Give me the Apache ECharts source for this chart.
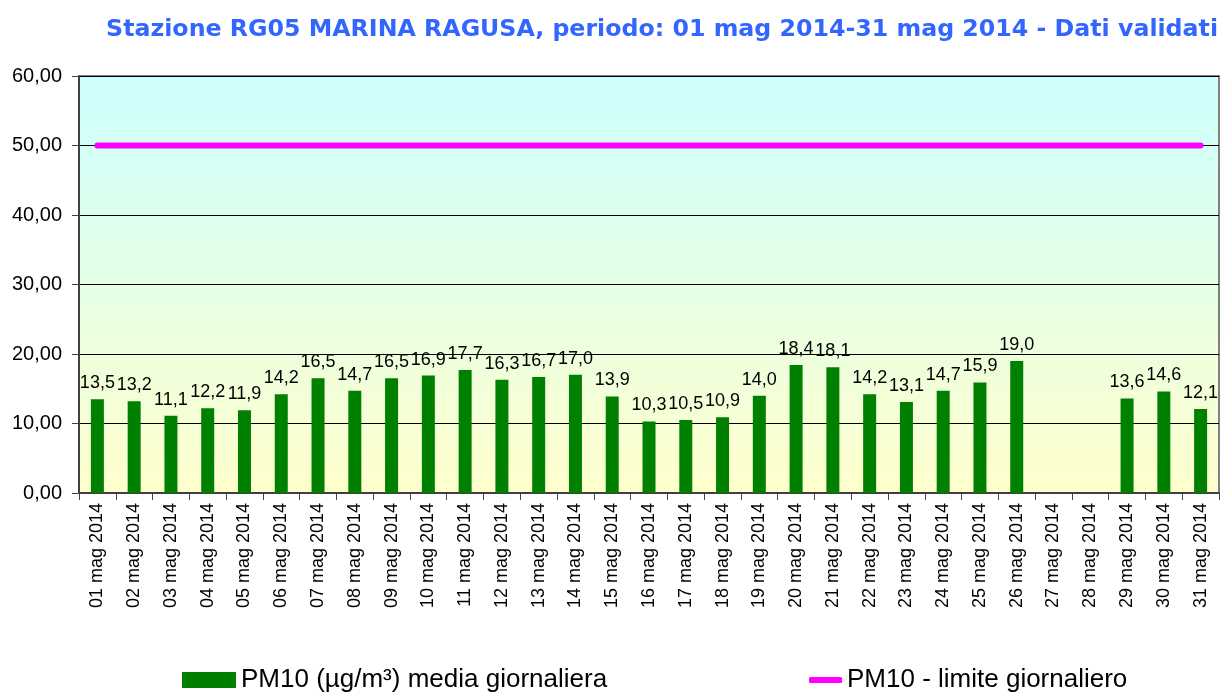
<!DOCTYPE html>
<html>
<head>
<meta charset="utf-8">
<script src="https://cdn.jsdelivr.net/npm/echarts@6/dist/echarts.min.js"></script>
<style>
  html, body { margin: 0; padding: 0; background: #fff; }
  #chart { width: 1224px; height: 695px; }
</style>
</head>
<body>
<div id="chart"></div>
<script>
const days = [
  '01 mag 2014', '02 mag 2014', '03 mag 2014', '04 mag 2014', '05 mag 2014', '06 mag 2014',
  '07 mag 2014', '08 mag 2014', '09 mag 2014', '10 mag 2014', '11 mag 2014', '12 mag 2014',
  '13 mag 2014', '14 mag 2014', '15 mag 2014', '16 mag 2014', '17 mag 2014', '18 mag 2014',
  '19 mag 2014', '20 mag 2014', '21 mag 2014', '22 mag 2014', '23 mag 2014', '24 mag 2014',
  '25 mag 2014', '26 mag 2014', '27 mag 2014', '28 mag 2014', '29 mag 2014', '30 mag 2014',
  '31 mag 2014'
];
const pm10 = [
  13.5, 13.2, 11.1, 12.2, 11.9, 14.2, 16.5, 14.7, 16.5, 16.9, 17.7, 16.3, 16.7, 17.0, 13.9, 10.3,
  10.5, 10.9, 14.0, 18.4, 18.1, 14.2, 13.1, 14.7, 15.9, 19.0, null, null, 13.6, 14.6, 12.1
];
const limite = days.map(() => 50);
const yMin = 0, yMax = 60, yStep = 10;

const chart = echarts.init(document.getElementById('chart'));

// comma as decimal separator, like the original
const comma = (v, d) => v.toFixed(d).replace('.', ',');

chart.setOption({
  animation: false,
  title: {
    text: 'Stazione RG05 MARINA RAGUSA, periodo: 01 mag 2014-31 mag 2014 - Dati validati',
    right: 1,
    top: 13,
    textStyle: { fontFamily: 'DejaVu Sans', fontSize: 23.7, fontWeight: 'bold', color: '#3366FF' }
  },
  legend: [
    {
      data: ['PM10 (µg/m³) media giornaliera'],
      left: 177, top: 661,
      icon: 'rect',
      itemWidth: 54, itemHeight: 16,
      textStyle: { fontFamily: 'Liberation Sans', fontSize: 26, color: '#000', lineHeight: 28 }
    },
    {
      data: ['PM10 - limite giornaliero'],
      left: 804, top: 661,
      icon: 'roundRect',
      itemWidth: 33, itemHeight: 6,
      textStyle: { fontFamily: 'Liberation Sans', fontSize: 26, color: '#000', lineHeight: 28 }
    }
  ],
  grid: {
    left: 79, right: 5, top: 76, bottom: 202,
    show: true,
    borderColor: '#808080',
    borderWidth: 2,
    backgroundColor: new echarts.graphic.LinearGradient(0, 0, 0, 1, [
      { offset: 0, color: '#CCFFFF' },
      { offset: 1, color: '#FFFFCC' }
    ])
  },
  xAxis: {
    type: 'category',
    data: days,
    axisLine: { lineStyle: { color: '#404040', width: 2 } },
    axisTick: { show: true, length: 7, lineStyle: { color: '#404040' } },
    axisLabel: {
      rotate: 90, interval: 0, margin: 10,
      fontFamily: 'Liberation Sans', fontSize: 18, color: '#000'
    }
  },
  yAxis: {
    type: 'value',
    min: yMin, max: yMax, interval: yStep,
    axisLine: { show: true, lineStyle: { color: '#404040', width: 2 } },
    axisTick: { show: true, length: 7, lineStyle: { color: '#404040' } },
    axisLabel: {
      formatter: v => comma(v, 2), margin: 17,
      fontFamily: 'Liberation Sans', fontSize: 20, color: '#000'
    },
    splitLine: { lineStyle: { color: '#000', width: 1 } }
  },
  series: [
    {
      name: 'PM10 (µg/m³) media giornaliera',
      type: 'bar',
      data: pm10,
      barWidth: 13,
      itemStyle: { color: '#008000' },
      label: {
        show: true, position: 'top', distance: 7,
        formatter: p => comma(p.value, 1),
        fontFamily: 'Liberation Sans', fontSize: 18, color: '#000'
      }
    },
    {
      name: 'PM10 - limite giornaliero',
      type: 'line',
      data: limite,
      symbol: 'none',
      lineStyle: { color: '#FF00FF', width: 6, cap: 'round' },
      itemStyle: { color: '#FF00FF' }
    }
  ]
});
</script>
</body>
</html>
